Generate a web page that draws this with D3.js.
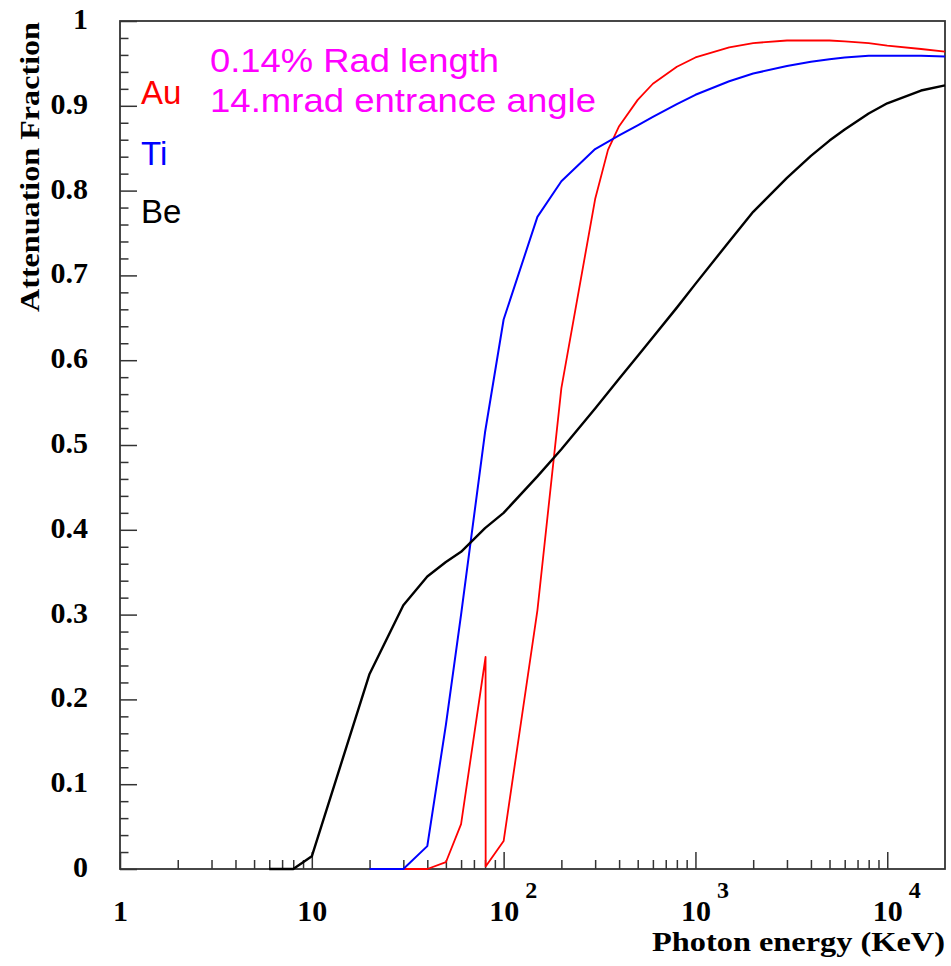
<!DOCTYPE html>
<html>
<head>
<meta charset="utf-8">
<script src="https://cdn.jsdelivr.net/npm/d3@7"></script>
<style>
    body { margin: 0; background: #fff; }
    .axis path { display: none; }
    .axis line { stroke: #333; stroke-width: 1.5; }
    .axis text { font-family: "Liberation Serif", "DejaVu Serif", serif; font-weight: bold; font-size: 30px; fill: #000; }
    .title { font-family: "Liberation Serif", serif; font-weight: bold; font-size: 28px; }
    .label { font-family: "Liberation Sans", Arial, sans-serif; font-size: 33px; }
</style>
</head>
<body>
<div id="chart"></div>
<script>

// Photon energy (keV) and attenuation fraction
let beEnergy = [6, 8, 10, 20, 30, 40, 50, 60, 80, 100, 150, 200, 300, 400, 500, 600, 800,
    1000, 1500, 2000, 3000, 4000, 5000, 6000, 8000, 10000, 15000, 20000];
let beFraction = [0, 0, 0.015, 0.23, 0.311, 0.345, 0.362, 0.374, 0.402, 0.42, 0.463, 0.495, 0.543, 0.578, 0.605, 0.627, 0.662,
    0.690, 0.740, 0.775, 0.815, 0.841, 0.859, 0.872, 0.891, 0.903, 0.918, 0.924];

let tiEnergy = [20, 30, 40, 50, 60, 80, 100, 150, 200, 300, 400, 500, 600, 800,
    1000, 1500, 2000, 3000, 4000, 5000, 6000, 8000, 10000, 15000, 20000];
let tiFraction = [0, 0, 0.027, 0.17, 0.30, 0.515, 0.648, 0.769, 0.811, 0.849, 0.865, 0.877, 0.887, 0.902,
    0.913, 0.929, 0.938, 0.947, 0.952, 0.955, 0.957, 0.959, 0.959, 0.959, 0.958];

let auEnergy = [30, 40, 50, 60, 80.5, 80.6, 100, 150, 200, 300, 350, 400, 500, 600, 800,
    1000, 1500, 2000, 3000, 4000, 5000, 6000, 8000, 10000, 15000, 20000];
let auFraction = [0, 0, 0.008, 0.053, 0.25, 0.003, 0.033, 0.305, 0.567, 0.79, 0.848, 0.876, 0.907, 0.926, 0.946,
    0.957, 0.969, 0.974, 0.977, 0.977, 0.977, 0.976, 0.974, 0.971, 0.967, 0.964];

let xMajorTicks = [1, 10, 100, 1000, 10000];
let yMajorTicks = [0, 0.1, 0.2, 0.3, 0.4, 0.5, 0.6, 0.7, 0.8, 0.9, 1];

let legendLabels = ["Au", "Ti", "Be"];
let noteLines = ["0.14% Rad length", "14.mrad entrance angle"];

let width = 951, height = 966;
let frame = {left: 120, right: 945, top: 21, bottom: 869};

let svg = d3.select("#chart").append("svg")
    .attr("width", width)
    .attr("height", height);

let x = d3.scaleLog().domain([1, 20000]).range([frame.left, frame.right]);
let y = d3.scaleLinear().domain([0, 1]).range([frame.bottom, frame.top]);

// minor ticks
let xMinor = [];
for (let dec = 1; dec <= 10000; dec *= 10) {
    for (let k = 2; k <= 9; k++) {
        if (k * dec < 20000) xMinor.push(k * dec);
    }
}
let yMinor = d3.range(0, 50).map(i => i * 0.02).filter((d, i) => i % 5 !== 0);

svg.append("g")
    .attr("class", "axis")
    .attr("transform", "translate(0," + frame.bottom + ")")
    .call(d3.axisBottom(x).tickValues(xMinor).tickSize(-9).tickFormat(""));

let xAxisGroup = svg.append("g")
    .attr("class", "axis")
    .attr("transform", "translate(0," + frame.bottom + ")")
    .call(d3.axisBottom(x).tickValues(xMajorTicks).tickSize(-17).tickFormat(d3.format("d")));

xAxisGroup.selectAll("text")
    .attr("y", 52)
    .attr("dy", null)
    .each(function (d) {
        let exp = Math.round(Math.log10(d));
        if (exp >= 2) {
            let t = d3.select(this).text("10").attr("text-anchor", "start").attr("x", -15);
            t.append("tspan")
                .attr("dx", 6)
                .attr("dy", -23)
                .style("font-size", "24px")
                .text(exp);
        }
    });

svg.append("g")
    .attr("class", "axis")
    .attr("transform", "translate(" + frame.left + ",0)")
    .call(d3.axisLeft(y).tickValues(yMinor).tickSize(-8.5).tickFormat(""));

svg.append("g")
    .attr("class", "axis")
    .attr("transform", "translate(" + frame.left + ",0)")
    .call(d3.axisLeft(y).tickValues(yMajorTicks).tickSize(-17).tickPadding(32)
        .tickFormat(d => (d === 0 || d === 1) ? d3.format("d")(d) : d3.format(".1f")(d)))
    .selectAll("text")
    .attr("dy", "0.25em");

// frame
svg.append("rect")
    .attr("x", frame.left)
    .attr("y", frame.top)
    .attr("width", frame.right - frame.left)
    .attr("height", frame.bottom - frame.top)
    .attr("fill", "none")
    .attr("stroke", "#333")
    .attr("stroke-width", 1.8);

// curves
let lineGenerator = d3.line()
    .x(d => x(d[0]))
    .y(d => y(d[1]));

let series = [
    {energy: auEnergy, frac: auFraction, color: "#ff0000", w: 1.8},
    {energy: tiEnergy, frac: tiFraction, color: "#0000ff", w: 2},
    {energy: beEnergy, frac: beFraction, color: "#000000", w: 2.4}
];

series.forEach(s => {
    svg.append("path")
        .datum(d3.zip(s.energy, s.frac))
        .attr("d", lineGenerator)
        .attr("fill", "none")
        .attr("stroke", s.color)
        .attr("stroke-width", s.w)
        .attr("stroke-linejoin", "round");
});

// legend text
let legendY = [104, 165, 223];
svg.selectAll(".legend")
    .data(legendLabels)
    .enter().append("text")
    .attr("class", "label legend")
    .attr("x", 141)
    .attr("y", (d, i) => legendY[i])
    .attr("fill", (d, i) => series[i].color)
    .text(d => d);

let noteY = [72, 112];
let noteWidth = [289, 386];
svg.selectAll(".note")
    .data(noteLines)
    .enter().append("text")
    .attr("class", "label note")
    .attr("x", 210)
    .attr("y", (d, i) => noteY[i])
    .attr("fill", "#ff00ff")
    .attr("textLength", (d, i) => noteWidth[i])
    .attr("lengthAdjust", "spacingAndGlyphs")
    .text(d => d);

// axis titles
svg.append("text")
    .attr("class", "title")
    .attr("text-anchor", "end")
    .attr("x", frame.right)
    .attr("y", 951)
    .attr("textLength", 293)
    .attr("lengthAdjust", "spacingAndGlyphs")
    .text("Photon energy (KeV)");

svg.append("text")
    .attr("class", "title")
    .attr("text-anchor", "end")
    .attr("transform", "translate(39,22) rotate(-90)")
    .attr("textLength", 290)
    .attr("lengthAdjust", "spacingAndGlyphs")
    .text("Attenuation Fraction");

</script>
</body>
</html>
